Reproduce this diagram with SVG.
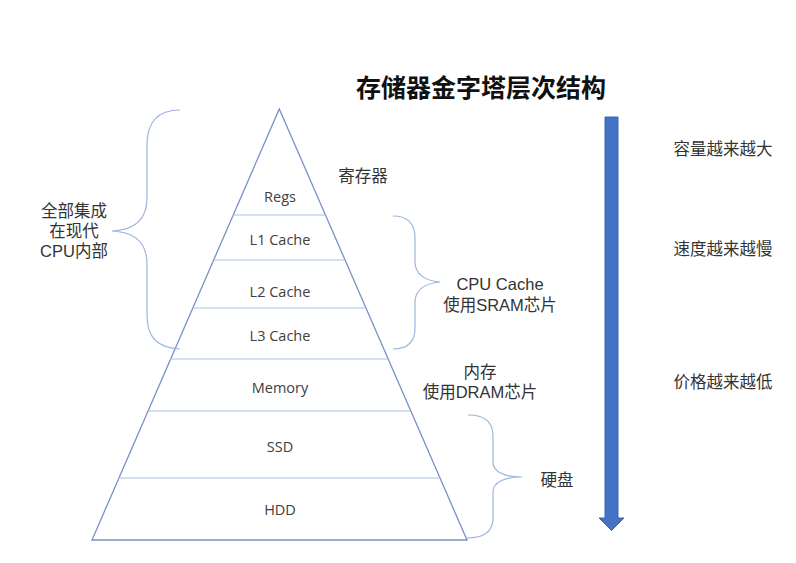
<svg xmlns="http://www.w3.org/2000/svg" width="796" height="563" viewBox="0 0 796 563">
<style>
.lbl{font-family:"Open Sans","Noto Sans CJK SC",sans-serif;font-size:14.5px;fill:#404040;text-anchor:middle;dominant-baseline:central}
.cn{font-family:"Noto Sans CJK SC","Open Sans",sans-serif;font-size:16.5px;fill:#333;text-anchor:middle;dominant-baseline:central}
.ml{font-family:"Liberation Sans","Noto Sans CJK SC",sans-serif;font-size:16.5px;fill:#333;text-anchor:middle;dominant-baseline:central}
.title{font-family:"Noto Sans CJK SC",sans-serif;font-size:25px;font-weight:bold;fill:#111;text-anchor:middle;dominant-baseline:central}
.tri{fill:none;stroke:#7891C6;stroke-width:1.3}
.layer{stroke:#A9BFE3;stroke-width:1.2}
.brace{fill:none;stroke:#9DB5E0;stroke-width:1.2}
</style>
<rect width="796" height="563" fill="#fff"/>
<g id="title"><text class="title" x="481" y="86">存储器金字塔层次结构</text></g>
<g id="pyramid">
<polygon class="tri" points="279.3,109 467,540 92,540"/>
<line class="layer" x1="233" y1="215" x2="325.5" y2="215"/>
<line class="layer" x1="213.5" y1="260" x2="345" y2="260"/>
<line class="layer" x1="192.5" y1="308" x2="366" y2="308"/>
<line class="layer" x1="170" y1="359" x2="388" y2="359"/>
<line class="layer" x1="147.5" y1="411" x2="410.5" y2="411"/>
<line class="layer" x1="118.5" y1="478" x2="440" y2="478"/>
</g>
<g id="regs"><text class="lbl" x="280" y="196">Regs</text></g>
<g id="l1"><text class="lbl" x="280" y="239">L1 Cache</text></g>
<g id="l2"><text class="lbl" x="280" y="291">L2 Cache</text></g>
<g id="l3"><text class="lbl" x="280" y="335">L3 Cache</text></g>
<g id="memory"><text class="lbl" x="280" y="387">Memory</text></g>
<g id="ssd"><text class="lbl" x="280" y="446">SSD</text></g>
<g id="hdd"><text class="lbl" x="280" y="509">HDD</text></g>
<g id="braces">
<path class="brace" d="M180,110 C158,110 147,122 147,145 L147,198 C147,220 135,230 112,231 C135,232 147,242 147,264 L147,315 C147,338 158,348 180,349"/>
<path class="brace" d="M393,216 C408,216 415,224 415,238 L415,262 C415,274 425,281 440,282 C425,283 415,290 415,302 L415,328 C415,342 408,349 393,349"/>
<path class="brace" d="M468,415 C484,415 493,422 493,436 L493,462 C493,472 505,477 522,477 C505,477 493,482 493,492 L493,518 C493,531 484,538 467,538"/>
</g>
<g id="cpu-note"><text class="ml" x="74" y="211">全部集成<tspan x="74" dy="20">在现代</tspan><tspan x="74" dy="20">CPU内部</tspan></text></g>
<g id="reg-note"><text class="cn" x="363" y="175">寄存器</text></g>
<g id="cache-note"><text class="ml" x="500" y="284">CPU Cache<tspan x="500" dy="21">使用SRAM芯片</tspan></text></g>
<g id="mem-note"><text class="ml" x="480" y="372">内存<tspan x="480" dy="20">使用DRAM芯片</tspan></text></g>
<g id="disk-note"><text class="cn" x="557" y="479">硬盘</text></g>
<g id="connectors">
<path d="M605,117 H618 V518 H624 L611.5,530.5 L599,518 H605 Z" fill="#4472C4" stroke="#3A64AE" stroke-width="1"/>
</g>
<g id="trend">
<text class="cn" x="723" y="148">容量越来越大</text>
<text class="cn" x="723" y="248">速度越来越慢</text>
<text class="cn" x="723" y="381">价格越来越低</text>
</g>
</svg>
